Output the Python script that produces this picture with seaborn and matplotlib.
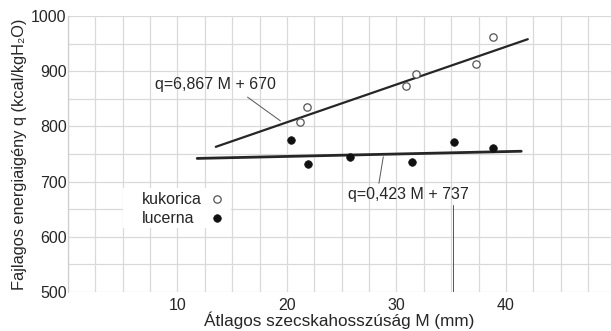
import matplotlib
matplotlib.use("Agg")
import matplotlib.pyplot as plt
import seaborn as sns
import pandas as pd
from matplotlib.ticker import MultipleLocator
from matplotlib.patches import Rectangle

# ---- data ----
kukorica_M = [21.2, 21.8, 30.9, 31.8, 37.3, 38.8]
kukorica_q = [808, 835, 873, 895, 913, 962]
lucerna_M = [20.4, 21.9, 25.8, 31.4, 35.3, 38.8]
lucerna_q = [775, 732, 745, 736, 772, 760]

fit_kuk_M = [13.5, 42.0]
fit_kuk_q = [763, 958]
fit_luc_M = [11.8, 41.4]
fit_luc_q = [742, 755]

eq_kuk = "q=6,867 M + 670"
eq_luc = "q=0,423 M + 737"
series_names = ["kukorica", "lucerna"]
x_ticks = [10, 20, 30, 40]
y_ticks = [500, 600, 700, 800, 900, 1000]
xlabel = "Átlagos szecskahosszúság M (mm)"
ylabel = "Fajlagos energiaigény q (kcal/kgH₂O)"

sns.set_style("white")
plt.rcParams['font.family'] = ['Liberation Sans', 'DejaVu Sans']
FS = 11.5
TXT = "#262626"

fig = plt.figure(figsize=(6.11, 3.31), dpi=100)
ax = fig.add_axes([68/611, 1-292/331, 1-68/611, (292-16)/331])

df_k = pd.DataFrame({"M": kukorica_M, "q": kukorica_q})
df_l = pd.DataFrame({"M": lucerna_M, "q": lucerna_q})
fk = pd.DataFrame({"M": fit_kuk_M, "q": fit_kuk_q})
fl = pd.DataFrame({"M": fit_luc_M, "q": fit_luc_q})

sns.lineplot(data=fk, x="M", y="q", ax=ax, color="#262626", lw=1.6, zorder=3)
sns.lineplot(data=fl, x="M", y="q", ax=ax, color="#262626", lw=2.0, zorder=3)
open_kw = dict(marker="o", facecolor="white", edgecolor="#555555", linewidth=0.9)
fill_kw = dict(marker="o", color="#111111", edgecolor="#111111", linewidth=0.5)
sns.scatterplot(data=df_k, x="M", y="q", ax=ax, s=28, zorder=4, legend=False, **open_kw)
sns.scatterplot(data=df_l, x="M", y="q", ax=ax, s=30, zorder=4, legend=False, **fill_kw)

# annotations with leader lines
ax.text(7.95, 875, eq_kuk, ha="left", va="center", fontsize=FS, color=TXT, zorder=5)
ax.plot([16.4, 19.4], [853, 810], color="#555555", lw=0.7, zorder=3)
ax.text(25.6, 676, eq_luc, ha="left", va="center", fontsize=FS, color=TXT, zorder=5)
ax.plot([28.4, 28.8], [697, 745], color="#555555", lw=0.7, zorder=3)
ax.plot([35.2, 35.2], [658, 500], color="#555555", lw=0.7, zorder=3)

# legend (labels left-aligned, markers on the right, white box over grid)
ax.add_patch(Rectangle((5.0, 616), 9.9, 73, facecolor="white", edgecolor="none", zorder=2))
ax.text(6.76, 668, series_names[0], ha="left", va="center", fontsize=FS, color=TXT, zorder=5)
ax.text(6.76, 634, series_names[1], ha="left", va="center", fontsize=FS, color=TXT, zorder=5)
ax.scatter([13.6], [668], s=28, zorder=5, **open_kw)
ax.scatter([13.6], [634], s=30, zorder=5, **fill_kw)

ax.set_xlim(0, 49.6)
ax.set_ylim(500, 1000)
ax.set_xticks(x_ticks)
ax.set_yticks(y_ticks)
ax.xaxis.set_minor_locator(MultipleLocator(2.5))
ax.yaxis.set_minor_locator(MultipleLocator(50))
ax.grid(True, which="both", color="#d9d9d9", lw=0.9)
ax.set_axisbelow(True)
ax.tick_params(which="both", length=0, labelsize=FS, colors=TXT)
ax.tick_params(axis="y", pad=1)
ax.tick_params(axis="x", pad=4)
for s in ["top", "right", "bottom"]:
    ax.spines[s].set_visible(False)
ax.spines["left"].set_color("#cfcfcf")
ax.spines["left"].set_linewidth(0.9)

ax.set_xlabel(xlabel, fontsize=12.3, color=TXT, labelpad=-1)
ax.set_ylabel(ylabel, fontsize=11.8, color=TXT, labelpad=3)

fig.savefig("out.png", dpi=100)
